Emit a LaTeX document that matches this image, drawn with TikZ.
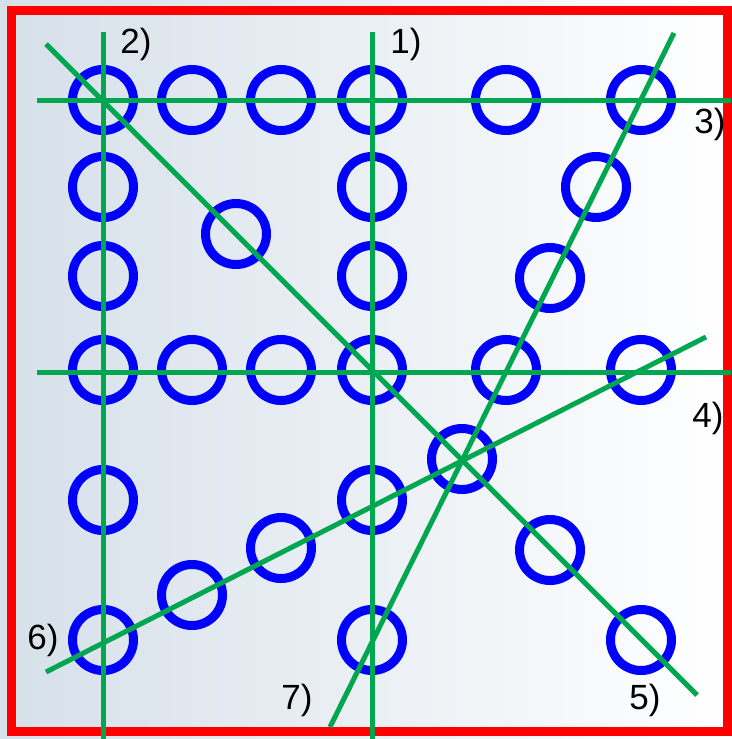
\documentclass[tikz,border=0pt]{standalone}
\usepackage{fontspec}
\setmainfont{Liberation Sans}
\begin{document}
\begin{tikzpicture}[x=1pt,y=-1pt,
  ring/.style={circle,draw=blue,line width=9pt,minimum size=61pt,inner sep=0pt},
  gline/.style={draw={rgb,255:red,0;green,166;blue,80},line width=5pt},
  lab/.style={font=\fontsize{35}{35}\selectfont,inner sep=0pt}]
\useasboundingbox (0,0) rectangle (731,739);
\shade[left color={rgb,255:red,214;green,224;blue,233},middle color={rgb,255:red,236;green,240;blue,244},right color=white] (0,0) rectangle (731,739);
% rings
\node[ring] (c11) at (103,100) {};
\node[ring] (c12) at (192,100) {};
\node[ring] (c13) at (281,100) {};
\node[ring] (c14) at (372,100) {};
\node[ring] (c15) at (506,100) {};
\node[ring] (c16) at (641,100) {};
\node[ring] (c21) at (103,187) {};
\node[ring] (c22) at (372,187) {};
\node[ring] (c23) at (596,187) {};
\node[ring] (c24) at (236,234) {};
\node[ring] (c31) at (103,276) {};
\node[ring] (c32) at (372,276) {};
\node[ring] (c33) at (550,278) {};
\node[ring] (c41) at (103,370) {};
\node[ring] (c42) at (192,370) {};
\node[ring] (c43) at (281,370) {};
\node[ring] (c44) at (372,370) {};
\node[ring] (c45) at (506,370) {};
\node[ring] (c46) at (641,370) {};
\node[ring] (c51) at (462,459) {};
\node[ring] (c61) at (103,500) {};
\node[ring] (c62) at (372,500) {};
\node[ring] (c63) at (281,548) {};
\node[ring] (c64) at (550,550) {};
\node[ring] (c65) at (192,595) {};
\node[ring] (c71) at (103,640) {};
\node[ring] (c72) at (372,640) {};
\node[ring] (c73) at (641,640) {};
% border
\draw[red,line width=9pt] (11.5,10) rectangle (727.5,731);
% line endpoints
\coordinate (a1) at (372,32); \coordinate (b1) at (372,739);
\coordinate (a2) at (103,32); \coordinate (b2) at (103,739);
\coordinate (a3) at (37,100); \coordinate (b3) at (731,100);
\coordinate (a4) at (37,372); \coordinate (b4) at (731,372);
\coordinate (a5) at (46,44); \coordinate (b5) at (697,695);
\coordinate (a6) at (46,672); \coordinate (b6) at (706,337);
\coordinate (a7) at (330,727); \coordinate (b7) at (674,33);
\foreach \i in {1,...,7} {\draw[gline] (a\i) -- (b\i);}
% labels
\node[lab] (l1) at (406,44) {1)};
\node[lab] (l2) at (136,44) {2)};
\node[lab] (l3) at (710,124) {3)};
\node[lab] (l4) at (708,418) {4)};
\node[lab] (l5) at (645,700) {5)};
\node[lab] (l6) at (43,640) {6)};
\node[lab] (l7) at (297,700) {7)};
\end{tikzpicture}
\end{document}
